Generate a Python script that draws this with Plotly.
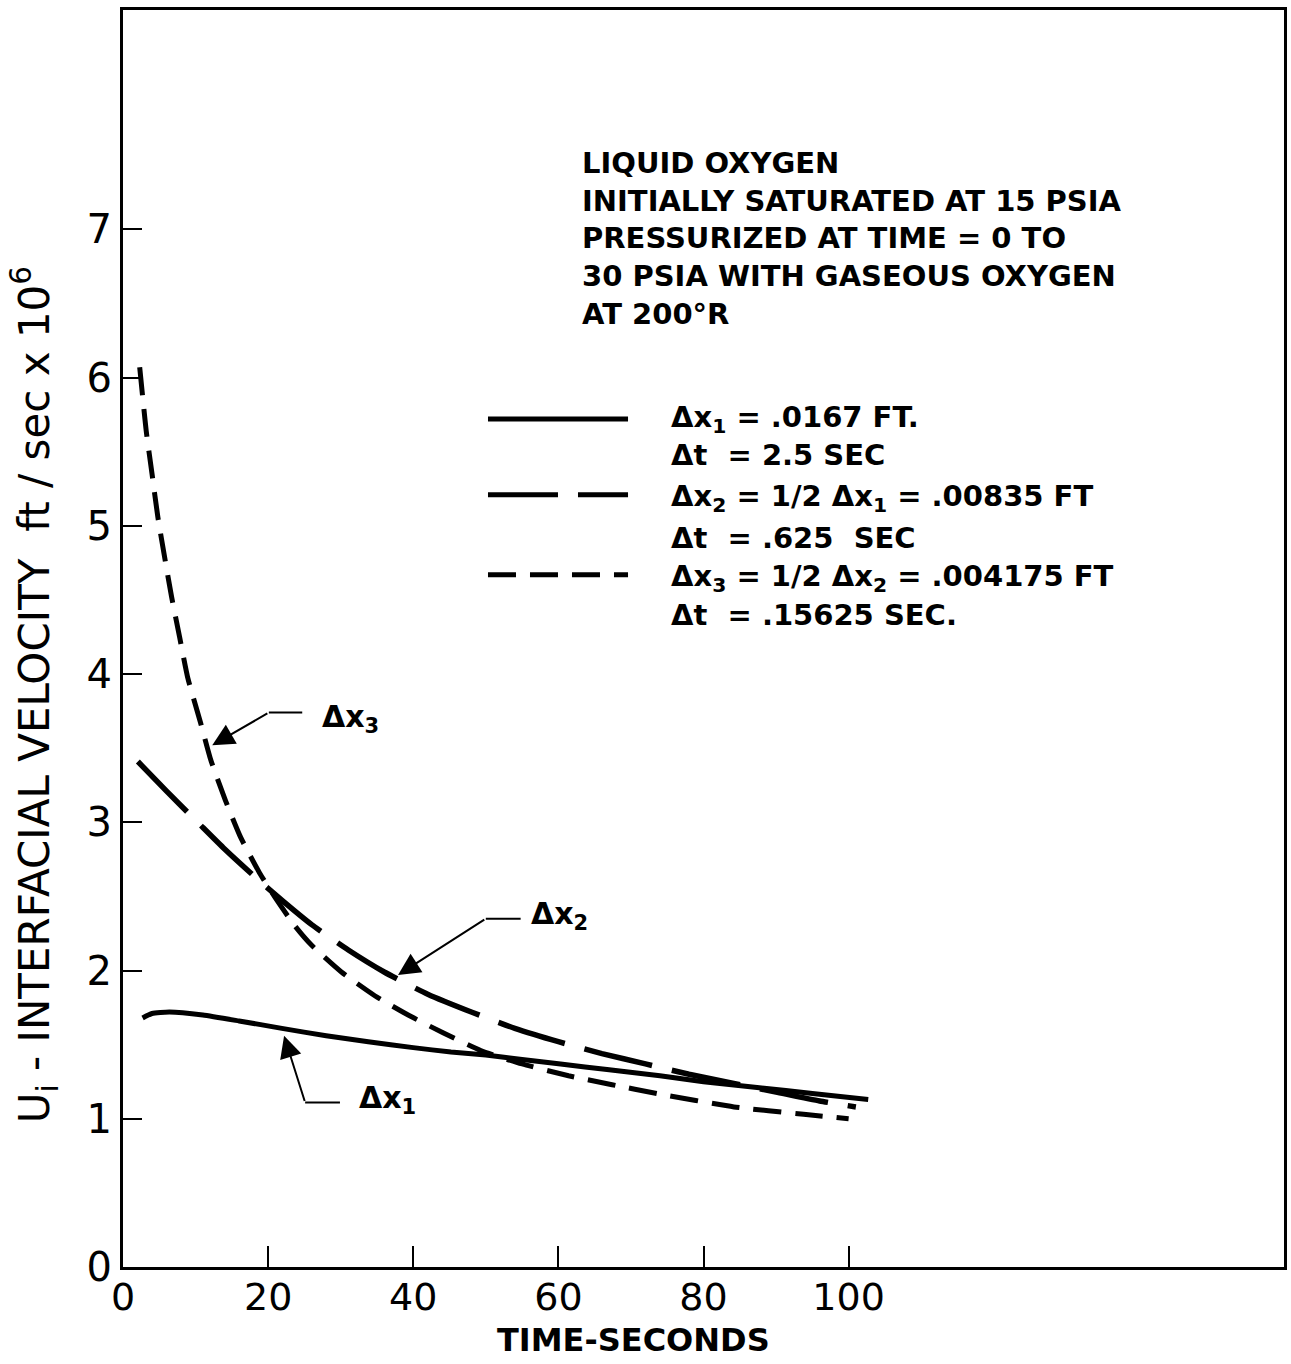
import plotly.graph_objects as go

# Interfacial velocity histories (ft/sec x 10^6) vs time (seconds)
# for three node spacings / time steps.
t_dx1 = [2.7, 4.0, 6.4, 11.0, 16.0, 21.9, 28.0, 33.8, 40.0, 45.2, 50.0, 55.0,
         60.3, 67.0, 74.0, 80.0, 87.7, 95.0, 102.7]
u_dx1 = [1.68, 1.71, 1.72, 1.70, 1.66, 1.61, 1.56, 1.52, 1.48, 1.45, 1.43, 1.40,
         1.37, 1.33, 1.29, 1.25, 1.21, 1.17, 1.13]

t_dx2 = [2.05, 6.0, 10.5, 14.0, 18.0, 22.0, 26.0, 31.0, 36.0, 42.0, 48.0, 54.0,
         60.0, 66.0, 72.0, 78.0, 84.0, 90.0, 96.0, 101.0]
u_dx2 = [3.41, 3.21, 2.99, 2.82, 2.64, 2.47, 2.31, 2.14, 1.99, 1.84, 1.72, 1.61,
         1.52, 1.44, 1.37, 1.30, 1.24, 1.18, 1.12, 1.08]

t_dx3 = [2.3, 3.2, 4.0, 4.8, 5.8, 6.7, 7.8, 8.9, 10.7, 12.1, 14.1, 16.2, 18.8,
         21.0, 23.7, 26.0, 30.1, 34.7, 39.3, 44.1, 49.3, 55.0, 61.4, 67.4, 73.6,
         84.2, 93.8, 100.0]
u_dx3 = [6.07, 5.64, 5.35, 5.06, 4.77, 4.52, 4.25, 3.98, 3.67, 3.42, 3.15, 2.90,
         2.66, 2.49, 2.30, 2.17, 1.99, 1.83, 1.70, 1.58, 1.46, 1.37, 1.29, 1.23,
         1.17, 1.08, 1.03, 1.00]

x_ticks = [0, 20, 40, 60, 80, 100]
y_ticks = [0, 1, 2, 3, 4, 5, 6, 7]

note_lines = [
    "LIQUID OXYGEN",
    "INITIALLY SATURATED AT 15 PSIA",
    "PRESSURIZED AT TIME = 0 TO",
    "30 PSIA WITH GASEOUS OXYGEN",
    "AT 200°R",
]

key_text = [
    "Δx<sub>1</sub> = .0167 FT.",
    "Δt\u00a0\u00a0= 2.5 SEC",
    "Δx<sub>2</sub> = 1/2 Δx<sub>1</sub> = .00835 FT",
    "Δt\u00a0\u00a0= .625\u00a0\u00a0SEC",
    "Δx<sub>3</sub> = 1/2 Δx<sub>2</sub> = .004175 FT",
    "Δt\u00a0\u00a0= .15625 SEC.",
]

INK = "black"
FONT = "DejaVu Sans"
DASH_LONG = "70px,20px"
DASH_SHORT = "28px,14px"

fig = go.Figure()

fig.add_trace(go.Scatter(x=t_dx1, y=u_dx1, mode="lines",
                         line=dict(color=INK, width=5, shape="spline", smoothing=0.5),
                         showlegend=False, hoverinfo="skip"))
fig.add_trace(go.Scatter(x=t_dx2, y=u_dx2, mode="lines",
                         line=dict(color=INK, width=5.5, dash=DASH_LONG, shape="spline", smoothing=0.5),
                         showlegend=False, hoverinfo="skip"))
fig.add_trace(go.Scatter(x=t_dx3, y=u_dx3, mode="lines",
                         line=dict(color=INK, width=5, dash=DASH_SHORT, shape="spline", smoothing=0.5),
                         showlegend=False, hoverinfo="skip"))

annotations = []
shapes = []

# Condition notes
annotations.append(dict(
    x=63.0, y=6.94, xref="x", yref="y", xanchor="left", yanchor="middle",
    text="<br>".join(note_lines), align="left", showarrow=False,
    font=dict(family=FONT, size=29, color=INK, weight="bold")))

# Hand-drawn key: sample line + two text lines per case
key_y = [5.72, 5.48, 5.19, 4.92, 4.65, 4.40]
sample_y = [5.72, 5.21, 4.67]
sample_dash = ["solid", DASH_LONG, DASH_SHORT]
for yy, dash in zip(sample_y, sample_dash):
    shapes.append(dict(type="line", xref="x", yref="y", x0=50.3, x1=69.6, y0=yy, y1=yy,
                       line=dict(color=INK, width=5, dash=dash)))
for yy, txt in zip(key_y, key_text):
    annotations.append(dict(x=75.3, y=yy, xref="x", yref="y", xanchor="left", yanchor="middle",
                            text=txt, showarrow=False, align="left",
                            font=dict(family=FONT, size=29, color=INK, weight="bold")))

# Curve call-outs: label, horizontal leader, arrow to the curve
callouts = [
    # label, label_x, label_y, corner (x,y), leader end x, tip (x,y)
    ("Δx<sub>3</sub>", 27.2, 3.70, (20.1, 3.74), 24.7, (12.3, 3.52)),
    ("Δx<sub>2</sub>", 56.0, 2.37, (50.0, 2.35), 54.8, (37.9, 1.97)),
    ("Δx<sub>1</sub>", 32.3, 1.13, (25.1, 1.11), 29.9, (22.2, 1.56)),
]
for label, lx, ly, (cx, cy), ex, (tx, ty) in callouts:
    annotations.append(dict(x=lx, y=ly, xref="x", yref="y", xanchor="left", yanchor="middle",
                            text=label, showarrow=False,
                            font=dict(family=FONT, size=30, color=INK, weight="bold")))
    shapes.append(dict(type="line", xref="x", yref="y", x0=cx, y0=cy, x1=ex, y1=cy,
                       line=dict(color=INK, width=2)))
    annotations.append(dict(x=tx, y=ty, ax=cx, ay=cy, xref="x", yref="y", axref="x", ayref="y",
                            text="", showarrow=True, arrowhead=2, arrowsize=2.2, arrowwidth=2,
                            arrowcolor=INK, standoff=0))

# Axis titles
annotations.append(dict(
    x=-0.0765, y=0.455, xref="paper", yref="paper", xanchor="center", yanchor="middle",
    textangle=-90, showarrow=False,
    text="U<sub>i</sub> - INTERFACIAL VELOCITY\u00a0\u00a0ft / sec x 10<sup>6</sup>",
    font=dict(family=FONT, size=42, color=INK)))
annotations.append(dict(
    x=70.4, y=-0.058, xref="x", yref="paper", xanchor="center", yanchor="middle",
    text="TIME-SECONDS", showarrow=False,
    font=dict(family=FONT, size=32, color=INK, weight="bold")))

fig.update_layout(
    width=1291, height=1364,
    margin=dict(l=123, r=4, t=10, b=97),
    paper_bgcolor="white", plot_bgcolor="white",
    showlegend=False,
    annotations=annotations,
    shapes=shapes,
)

fig.update_xaxes(
    range=[0, 160], tickvals=x_ticks, ticktext=[str(v) for v in x_ticks],
    showgrid=False, zeroline=False,
    showline=True, linecolor=INK, linewidth=3, mirror=True,
    ticks="inside", ticklen=21, tickwidth=2, tickcolor=INK,
    ticklabelstandoff=-6,
    tickfont=dict(family=FONT, size=38, color=INK),
)
fig.update_yaxes(
    range=[0, 8.48], tickvals=y_ticks, ticktext=[str(v) for v in y_ticks],
    showgrid=False, zeroline=False,
    showline=True, linecolor=INK, linewidth=3, mirror=True,
    ticks="inside", ticklen=19, tickwidth=2, tickcolor=INK,
    tickfont=dict(family=FONT, size=40, color=INK),
)

fig.write_html("out.html")
